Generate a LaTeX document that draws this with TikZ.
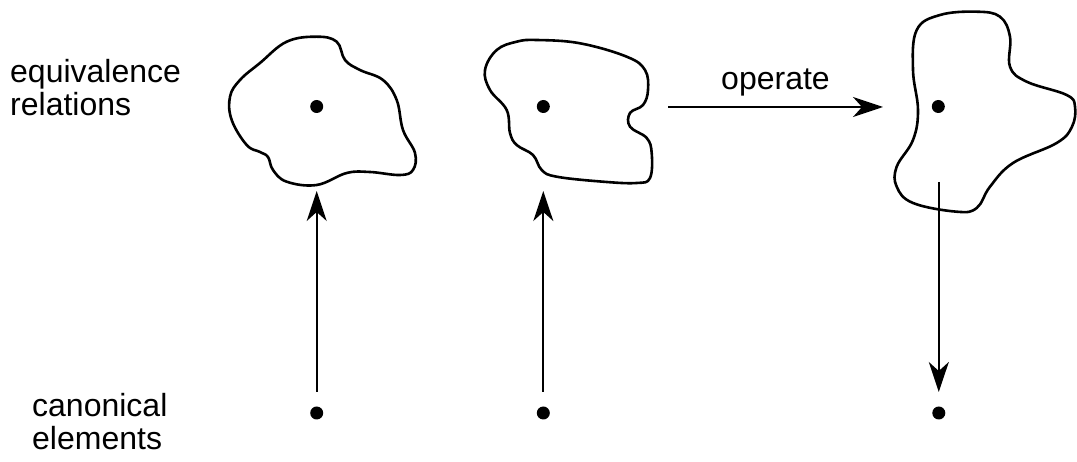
\documentclass[tikz,border=0pt]{standalone}
\usepackage{fontspec}
\setmainfont{Liberation Sans}
\usetikzlibrary{arrows.meta}
\begin{document}
\begin{tikzpicture}[x=1pt,y=-1pt,
  blob/.style={line width=2.6pt, line join=round},
  pt/.style={circle, fill=black, inner sep=0pt, minimum size=13pt},
  link/.style={line width=1.8pt, -{Stealth[length=30pt, width=20pt, inset=9pt]}},
  txt/.style={font=\fontsize{32}{33}\selectfont},
  lbl/.style={txt, inner sep=0pt, align=left, anchor=north west}]
\useasboundingbox (0,0) rectangle (1077,462);

% side labels
\node[lbl] (eqlabel) at (10,59) {equivalence\\relations};
\node[lbl] (canlabel) at (32,393) {canonical\\elements};

% first class
\draw[blob] plot[smooth cycle, tension=0.65] coordinates {
  (316.7,36.7) (336.7,41.7) (345,60) (360,70) (383,80) (396.7,100) (403,130)
  (415,153) (413,170) (400,175) (370,172) (346.7,173) (316.7,185) (286.7,181.7)
  (273,170) (268,157) (260,152) (246.7,145) (231.7,120) (230,96.7) (240,80)
  (260,63) (286.7,41.7)};
% second class
\draw[blob] plot[smooth cycle, tension=0.65] coordinates {
  (536.7,40) (580,43.3) (626.7,56.7) (645,70) (648,90) (643,105) (630,113)
  (630,126.7) (646.7,138) (651.7,153) (650,178) (636.7,183) (603,181.7)
  (556.7,176.7) (541.7,170) (533,155) (516.7,145) (510,133) (506.7,110)
  (490,90) (485,70) (496.7,50) (516.7,41.7)};
% third class
\draw[blob] plot[smooth cycle, tension=0.65] coordinates {
  (976.7,11.7) (1000,16.7) (1010,36.7) (1010,66.7) (1026.7,81.7) (1066.7,95)
  (1075,106.7) (1072,126.7) (1056.7,143) (1013,163) (990,186.7) (976.7,208)
  (956.7,211.7) (913,203) (896.7,186.7) (896.7,166.7) (913,140) (918,110)
  (913,70) (916.7,30) (940,15)};

% class representatives
\node[pt] (r1) at (316.7,106.5) {};
\node[pt] (r2) at (543.3,106.5) {};
\node[pt] (r3) at (938.3,106.5) {};
% canonical elements
\node[pt] (c1) at (316.7,413) {};
\node[pt] (c2) at (543.3,413) {};
\node[pt] (c3) at (938.8,413) {};

% arrow end points
\coordinate (u1) at (316.7,392);
\coordinate (t1) at (316.7,191);
\coordinate (u2) at (543.3,392);
\coordinate (t2) at (543.3,191);
\coordinate (d3) at (938.8,182);
\coordinate (b3) at (938.8,392);
\coordinate (o1) at (668,107);
\coordinate (o2) at (883,107);

\draw[link] (u1) -- (t1);
\draw[link] (u2) -- (t2);
\draw[link] (d3) -- (b3);
\draw[link] (o1) -- node[above=10pt, txt, inner sep=0pt] (oplabel) {operate} (o2);
\end{tikzpicture}
\end{document}
